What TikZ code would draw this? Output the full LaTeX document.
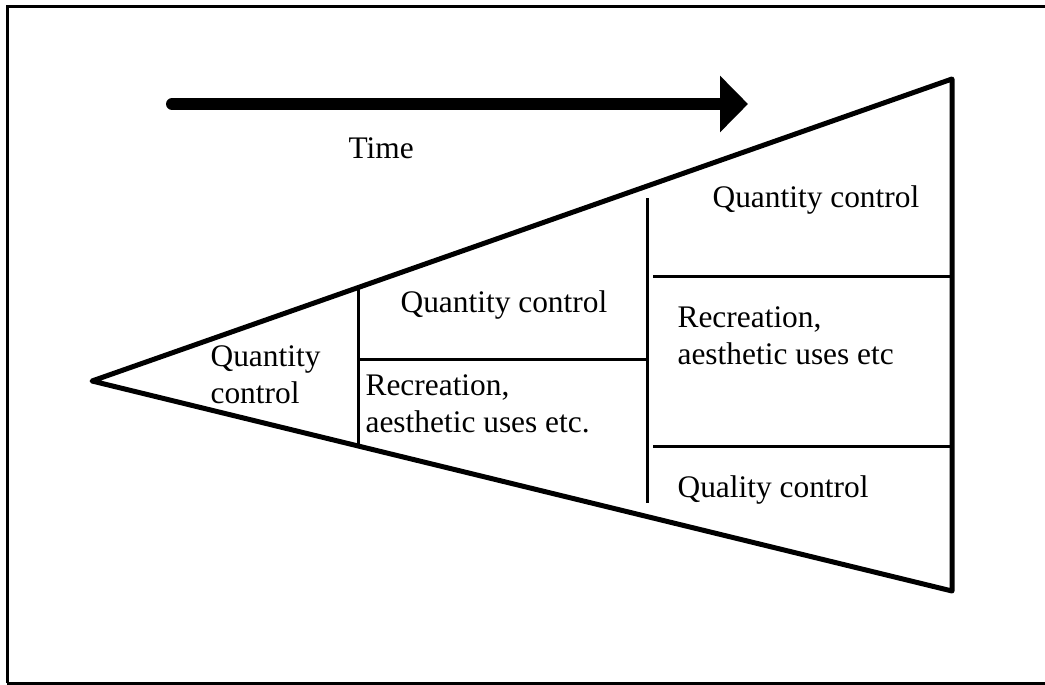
\documentclass[tikz,border=0pt]{standalone}
\usepackage{fontspec}
\setmainfont{Liberation Serif}
\usetikzlibrary{arrows.meta}

\begin{document}
\begin{tikzpicture}[x=0.5pt,y=-0.5pt, semithick,
    lbl/.style={anchor=base west,inner sep=0pt,align=left,
      font=\fontsize{15.7}{18.5}\selectfont},
    edge/.style={line width=2.5pt,line join=round},
    split/.style={line width=1.5pt}]
      \useasboundingbox (0,0) rectangle (1045,685);
      \draw [line width=1.5pt] (7,683) -- (7,6) -- (1050,6) (7,683) -- (1050,683);
      % time arrow
      \coordinate (t0) at (172,104);
      \coordinate (t1) at (748,104);
      \draw [line width=6pt,line cap=round,-{Triangle[length=14pt,width=27.5pt]}] (t0) -- (t1);
      \node [lbl] (time) at (348,158) {Time};
      % triangle
      \coordinate (apex) at (92,381);
      \coordinate (tr) at (952,79);
      \coordinate (br) at (952,591);
      \draw [edge] (apex) -- (tr) -- (br) -- cycle;
      \coordinate (v1a) at (358,288);
      \coordinate (v1b) at (358,446);
      \coordinate (v2a) at (647,198);
      \coordinate (v2b) at (647,503);
      \coordinate (h1a) at (358,359);
      \coordinate (h1b) at (647,359);
      \coordinate (h2a) at (653,276);
      \coordinate (h2b) at (952,276);
      \coordinate (h3a) at (653,446);
      \coordinate (h3b) at (952,446);
      \path [split]
      (v1a) edge (v1b)
      (v2a) edge (v2b)
      (h1a) edge (h1b)
      (h2a) edge (h2b)
      (h3a) edge (h3b)
      ;
      % base of a multi-line label is its last line
      \node [lbl] (qc1) at (210,403) {Quantity\\control};
      \node [lbl] (qc2) at (400,312) {Quantity control};
      \node [lbl] (rec1) at (365,432) {Recreation,\\aesthetic uses etc.};
      \node [lbl] (qc3) at (712,207) {Quantity control};
      \node [lbl] (rec2) at (677,364) {Recreation,\\aesthetic uses etc};
      \node [lbl] (ql) at (677,497) {Quality control};
\end{tikzpicture}
\end{document}
